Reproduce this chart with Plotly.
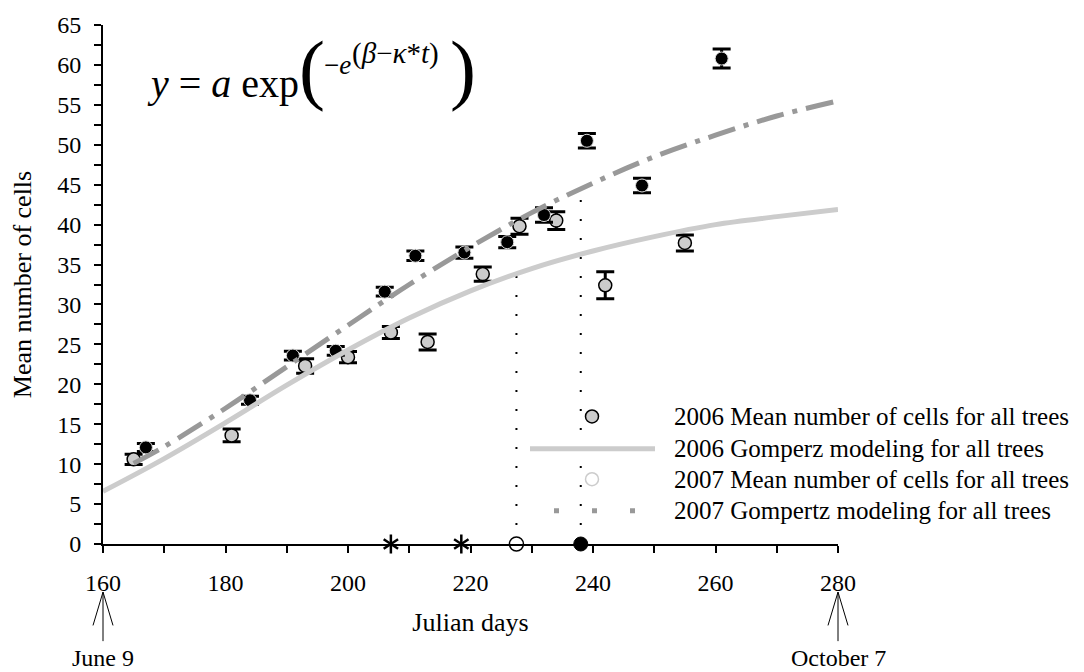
import plotly.graph_objects as go

# ---------------- data ----------------
days_2006 = [165, 181, 193, 200, 207, 213, 222, 228, 234, 242, 255]
mean_2006 = [10.6, 13.6, 22.3, 23.4, 26.5, 25.3, 33.8, 39.8, 40.5, 32.4, 37.7]
err_2006 = [0.65, 0.8, 0.9, 0.7, 0.75, 1.0, 0.9, 1.0, 1.1, 1.7, 1.0]

days_2007 = [167, 184, 191, 198, 206, 211, 219, 226, 232, 239, 248, 261]
mean_2007 = [12.1, 18.0, 23.6, 24.2, 31.6, 36.1, 36.5, 37.8, 41.2, 50.5, 44.9, 60.8]
err_2007 = [0.5, 0.5, 0.55, 0.55, 0.55, 0.6, 0.7, 0.7, 0.9, 0.9, 0.9, 1.2]

model_days_2006 = [160, 170, 180, 190, 200, 210, 220, 230, 240, 250, 260, 270, 280]
model_2006 = [6.6, 10.7, 15.2, 19.9, 24.3, 28.3, 31.7, 34.5, 36.7, 38.5, 40.0, 41.0, 41.9]

model_days_2007 = [165, 170, 180, 190, 200, 210, 220, 230, 240, 250, 260, 270, 280]
model_2007 = [10.1, 12.2, 17.0, 22.2, 27.4, 32.5, 37.2, 41.5, 45.2, 48.5, 51.2, 53.6, 55.5]

marker_days = [227.5, 238]          # vertical dotted markers
marker_tops = [33.9, 44.4]
star_days = [207, 218.5]

x_ticks = [160, 180, 200, 220, 240, 260, 280]
y_ticks = [0, 5, 10, 15, 20, 25, 30, 35, 40, 45, 50, 55, 60, 65]
X_RANGE = [160, 280]
Y_RANGE = [0, 65]
date_labels = {160: "June 9", 280: "October 7"}

legend_labels = [
    "2006 Mean number of cells for all trees",
    "2006 Gomperz modeling for all trees",
    "2007 Mean number of cells for all trees",
    "2007 Gompertz modeling for all trees",
]

FONT = "Liberation Serif, Times New Roman, serif"
LIGHT = "#cccccc"
DARK = "#999999"

# plot-area geometry (pixels) used for decorations in paper coordinates
W, H = 1084, 672
L, R, T, B = 103, 838, 15, 544


def px_x(px):
    return (px - L) / (R - L)


def px_y(py):
    return (B - py) / (B - T)


def day_to_paper(d):
    return (d - X_RANGE[0]) / (X_RANGE[1] - X_RANGE[0])


fig = go.Figure()

# 2006 points (grey)
fig.add_trace(go.Scatter(
    x=days_2006, y=mean_2006, mode="markers", name="2006 mean",
    marker=dict(size=13, color=LIGHT, line=dict(color="black", width=1.5)),
    error_y=dict(type="data", array=err_2006, visible=True, color="black",
                 thickness=3, width=9),
    showlegend=False, cliponaxis=False,
))
# 2007 points (black)
fig.add_trace(go.Scatter(
    x=days_2007, y=mean_2007, mode="markers", name="2007 mean",
    marker=dict(size=13, color="black", line=dict(color="#dddddd", width=1)),
    error_y=dict(type="data", array=err_2007, visible=True, color="black",
                 thickness=3, width=9),
    showlegend=False, cliponaxis=False,
))

# vertical dotted markers
vx, vy = [], []
for d, top in zip(marker_days, marker_tops):
    vx += [d, d, None]
    vy += [0, top, None]
fig.add_trace(go.Scatter(
    x=vx, y=vy, mode="lines", line=dict(color="black", width=2, dash="2px,17px"),
    showlegend=False, hoverinfo="skip",
))

# Gompertz models
fig.add_trace(go.Scatter(
    x=model_days_2006, y=model_2006, mode="lines", line_shape="spline",
    line=dict(color=LIGHT, width=5), showlegend=False,
))
fig.add_trace(go.Scatter(
    x=model_days_2007, y=model_2007, mode="lines", line_shape="spline",
    line=dict(color=DARK, width=5, dash="28px,9px,5px,9px"), showlegend=False,
))

# six-armed asterisks on the x axis
for sym in ["y-up-open", "y-down-open"]:
    fig.add_trace(go.Scatter(
        x=star_days, y=[0] * len(star_days), mode="markers",
        marker=dict(symbol=sym, size=12, color="black",
                    line=dict(color="black", width=2.5)),
        showlegend=False, cliponaxis=False,
    ))
fig.add_trace(go.Scatter(
    x=[marker_days[0]], y=[0], mode="markers",
    marker=dict(symbol="circle", size=14, color="white", line=dict(color="black", width=1.5)),
    showlegend=False, cliponaxis=False,
))
fig.add_trace(go.Scatter(
    x=[marker_days[1]], y=[0], mode="markers",
    marker=dict(symbol="circle", size=14, color="black", line=dict(color="black", width=1)),
    showlegend=False, cliponaxis=False,
))

shapes = []
annotations = []

# ---- custom legend ----
leg_rows = [414, 447, 478, 510]
text_x = 672
for lab, ry in zip(legend_labels, leg_rows):
    annotations.append(dict(
        x=px_x(text_x), y=px_y(ry), xref="paper", yref="paper", text=lab,
        showarrow=False, xanchor="left", yanchor="middle",
        font=dict(family=FONT, size=25, color="black"),
    ))
# grey marker symbol
shapes.append(dict(type="circle", xref="paper", yref="paper",
                   xsizemode="pixel", ysizemode="pixel",
                   xanchor=px_x(592), yanchor=px_y(leg_rows[0]),
                   x0=-6.5, x1=6.5, y0=-6.5, y1=6.5,
                   fillcolor=LIGHT, line=dict(color="black", width=1.5)))
# solid light line
shapes.append(dict(type="line", xref="paper", yref="paper",
                   x0=px_x(530), x1=px_x(655), y0=px_y(leg_rows[1]), y1=px_y(leg_rows[1]),
                   line=dict(color=LIGHT, width=5)))
# open circle
shapes.append(dict(type="circle", xref="paper", yref="paper",
                   xsizemode="pixel", ysizemode="pixel",
                   xanchor=px_x(592), yanchor=px_y(leg_rows[2]),
                   x0=-6.5, x1=6.5, y0=-6.5, y1=6.5,
                   fillcolor="white", line=dict(color=LIGHT, width=1.5)))
# dotted square line
shapes.append(dict(type="line", xref="paper", yref="paper",
                   x0=px_x(554), x1=px_x(636), y0=px_y(leg_rows[3]), y1=px_y(leg_rows[3]),
                   line=dict(color=DARK, width=5, dash="5px,33px")))

# ---- date arrows under the x axis ----
for d, lab in date_labels.items():
    xp = day_to_paper(d)
    dx = 10 / (R - L)
    tip, legs, foot = px_y(593), px_y(627), px_y(643)
    shapes.append(dict(type="line", xref="paper", yref="paper",
                       x0=xp, x1=xp, y0=tip, y1=foot, line=dict(color="black", width=1)))
    shapes.append(dict(type="line", xref="paper", yref="paper",
                       x0=xp, x1=xp - dx, y0=tip, y1=legs, line=dict(color="black", width=1)))
    shapes.append(dict(type="line", xref="paper", yref="paper",
                       x0=xp, x1=xp + dx, y0=tip, y1=legs, line=dict(color="black", width=1)))
    annotations.append(dict(
        x=xp, y=px_y(660), xref="paper", yref="paper", text=lab, showarrow=False,
        xanchor="center", yanchor="middle", font=dict(family=FONT, size=24, color="black"),
    ))

# ---- formula ----
annotations += [
    dict(x=px_x(145), y=px_y(75), xref="paper", yref="paper",
         text="<i>y</i> = <i>a</i> exp", showarrow=False, xanchor="left", yanchor="middle",
         font=dict(family=FONT, size=40, color="black")),
    dict(x=px_x(297), y=px_y(59), xref="paper", yref="paper",
         text="(", showarrow=False, xanchor="left", yanchor="middle",
         font=dict(family=FONT, size=78, color="black")),
    dict(x=px_x(322), y=px_y(56), xref="paper", yref="paper",
         text="\u2212<i>e</i>", showarrow=False, xanchor="left", yanchor="middle",
         font=dict(family=FONT, size=27, color="black")),
    dict(x=px_x(350), y=px_y(44), xref="paper", yref="paper",
         text="(<i>\u03b2</i>\u2212<i>\u03ba</i>*<i>t</i>)", showarrow=False,
         xanchor="left", yanchor="middle",
         font=dict(family=FONT, size=29, color="black")),
    dict(x=px_x(448), y=px_y(59), xref="paper", yref="paper",
         text=")", showarrow=False, xanchor="left", yanchor="middle",
         font=dict(family=FONT, size=78, color="black")),
]

fig.update_layout(
    width=W, height=H, autosize=False,
    margin=dict(l=L, r=W - R, t=T, b=H - B),
    paper_bgcolor="white", plot_bgcolor="white",
    font=dict(family=FONT, size=24, color="black"),
    shapes=shapes, annotations=annotations,
    showlegend=False,
)
fig.update_xaxes(
    range=X_RANGE, tickvals=x_ticks, showgrid=False, zeroline=False,
    showline=True, linecolor="black", linewidth=2,
    ticks="outside", ticklen=7, tickwidth=2, tickcolor="black",
    ticklabelstandoff=9,
    minor=dict(dtick=10, ticks="outside", ticklen=7, tickwidth=2, tickcolor="black", showgrid=False),
    title=dict(text="Julian days", font=dict(family=FONT, size=26), standoff=18),
    tickfont=dict(family=FONT, size=24),
)
fig.update_yaxes(
    range=Y_RANGE, tickvals=y_ticks, showgrid=False, zeroline=False,
    showline=True, linecolor="black", linewidth=2,
    ticks="outside", ticklen=7, tickwidth=2, tickcolor="black",
    ticklabelstandoff=8,
    minor=dict(dtick=2.5, ticks="outside", ticklen=7, tickwidth=2, tickcolor="black", showgrid=False),
    title=dict(text="Mean number of cells", font=dict(family=FONT, size=26), standoff=18),
    tickfont=dict(family=FONT, size=24),
)

fig.write_html("out.html")
